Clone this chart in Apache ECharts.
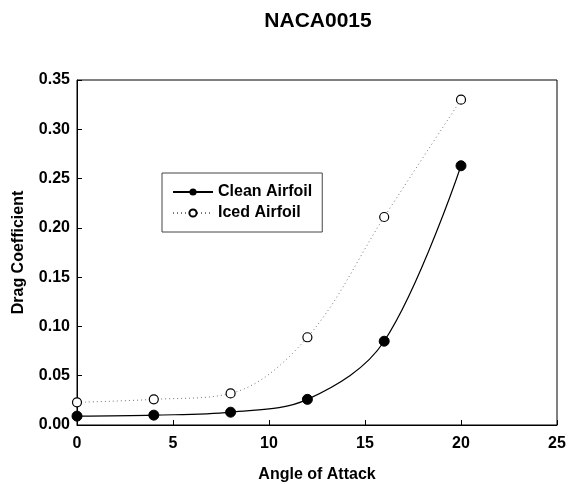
<!DOCTYPE html>
<html><head><meta charset="utf-8">
<script src="https://cdn.jsdelivr.net/npm/echarts@6/dist/echarts.min.js"></script>
<style>html,body{margin:0;padding:0;background:#fff}#c{width:569px;height:484px}</style>
</head><body><div id="c"></div>
<script>
const angles = [0, 4, 8, 12, 16, 20];
const cleanCd = [0.009, 0.010, 0.013, 0.026, 0.085, 0.263];
const icedCd = [0.023, 0.026, 0.032, 0.089, 0.211, 0.330];
const titleText = 'NACA0015';
const xName = 'Angle of Attack';
const yName = 'Drag Coefficient';
const F = 'Liberation Sans, Arial, sans-serif';

const chart = echarts.init(document.getElementById('c'));
chart.setOption({
  animation: false,
  backgroundColor: '#fff',
  title: { text: titleText, left: 313, textAlign: 'center', top: 6,
    textStyle: { fontFamily: F, fontSize: 21, fontWeight: 'bold', color: '#000' } },
  grid: { left: 77, right: 12, top: 80, bottom: 59, show: true, borderColor: '#000', borderWidth: 1,
    outerBoundsMode: 'none', containLabel: false },
  legend: {
    left: 162, top: 173, orient: 'vertical', itemGap: 5,
    borderColor: '#444', borderWidth: 1, padding: [11, 10, 11, 10],
    itemWidth: 40, itemHeight: 9,
    textStyle: { fontFamily: F, fontSize: 16, fontWeight: 'bold', color: '#000' },
    data: ['Clean Airfoil', 'Iced Airfoil']
  },
  xAxis: {
    type: 'value', min: 0, max: 25, interval: 5,
    name: xName, nameLocation: 'middle', nameGap: 42,
    nameTextStyle: { fontFamily: F, fontSize: 16, fontWeight: 'bold', color: '#000' },
    axisLine: { lineStyle: { color: '#000' } },
    axisTick: { inside: true, length: 5, lineStyle: { color: '#000' } },
    axisLabel: { fontFamily: F, fontSize: 16, fontWeight: 'bold', color: '#000', margin: 11 },
    splitLine: { show: false }
  },
  yAxis: {
    type: 'value', min: 0, max: 0.35, interval: 0.05,
    name: yName, nameLocation: 'middle', nameGap: 50, nameRotate: 90,
    nameTextStyle: { fontFamily: F, fontSize: 16, fontWeight: 'bold', color: '#000' },
    axisLine: { show: true, lineStyle: { color: '#000' } },
    axisTick: { show: true, inside: true, length: 5, lineStyle: { color: '#000' } },
    axisLabel: { fontFamily: F, fontSize: 16, fontWeight: 'bold', color: '#000', margin: 7,
      formatter: v => v.toFixed(2) },
    splitLine: { show: false }
  },
  series: [
    { name: 'Clean Airfoil', type: 'line', smooth: 0.35,
      data: angles.map((a, i) => [a, cleanCd[i]]),
      symbol: 'circle', symbolSize: 10,
      itemStyle: { color: '#000', borderColor: '#000' },
      lineStyle: { color: '#000', width: 1.2 } },
    { name: 'Iced Airfoil', type: 'line', smooth: 0.35,
      data: angles.map((a, i) => [a, icedCd[i]]),
      symbol: 'circle', symbolSize: 9,
      itemStyle: { color: '#fff', borderColor: '#000', borderWidth: 1.2 },
      lineStyle: { color: '#777', width: 1, type: [1, 3] } }
  ]
});
</script></body></html>
